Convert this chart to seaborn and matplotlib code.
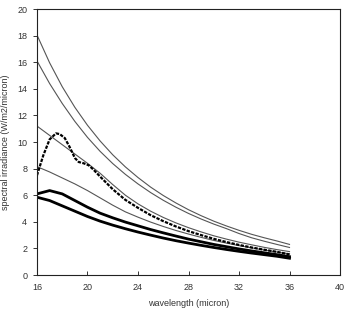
import pandas as pd
import matplotlib
matplotlib.use('Agg')
import matplotlib.pyplot as plt
import seaborn as sns

# wavelength grid (micron)
wl = [16, 17, 18, 19, 20, 21, 22, 23, 24, 25, 26, 27, 28, 29, 30, 31, 32, 33, 34, 35, 36]

# thin model curves
curve_a = [18.05, 15.96, 14.16, 12.61, 11.26, 10.08, 9.04, 8.13, 7.33, 6.61, 5.98,
           5.42, 4.91, 4.46, 4.05, 3.69, 3.36, 3.06, 2.80, 2.56, 2.30]
curve_b = [16.1, 14.4, 12.9, 11.55, 10.35, 9.3, 8.38, 7.57, 6.85, 6.2, 5.62,
           5.1, 4.63, 4.21, 3.83, 3.49, 3.12, 2.8, 2.54, 2.3, 2.07]
curve_c = [11.2, 10.5, 9.8, 9.1, 8.4, 7.65, 6.8, 6.0, 5.35, 4.8, 4.33,
           3.92, 3.56, 3.24, 2.95, 2.7, 2.47, 2.27, 2.08, 1.91, 1.76]
curve_e = [8.15, 7.75, 7.3, 6.85, 6.35, 5.8, 5.25, 4.75, 4.35, 3.98, 3.65,
           3.35, 3.08, 2.83, 2.6, 2.4, 2.21, 2.04, 1.88, 1.73, 1.58]

# thick measured curves
curve_f = [6.1, 6.35, 6.1, 5.6, 5.1, 4.65, 4.3, 3.98, 3.7, 3.42, 3.17,
           2.93, 2.7, 2.5, 2.3, 2.13, 1.96, 1.81, 1.67, 1.53, 1.38]
curve_g = [5.85, 5.6, 5.2, 4.8, 4.4, 4.05, 3.75, 3.48, 3.23, 3.0, 2.78,
           2.58, 2.4, 2.23, 2.07, 1.92, 1.78, 1.65, 1.53, 1.41, 1.26]

# dotted measured curve with the peak near 17.6 micron
wl_d = [16, 16.5, 17, 17.5, 17.8, 18.2, 18.6, 19.0, 19.3, 19.7, 20.1, 20.5, 21,
        22, 23, 24, 25, 26, 27, 28, 29, 30, 31, 32, 33, 34, 35, 36]
curve_d = [7.5, 9.0, 10.2, 10.65, 10.6, 10.3, 9.6, 8.8, 8.5, 8.4, 8.25, 7.9, 7.4,
           6.45, 5.65, 5.05, 4.5, 4.05, 3.65, 3.3, 3.0, 2.72, 2.48, 2.26, 2.07, 1.9, 1.74, 1.55]

thin = {'a': curve_a, 'b': curve_b, 'c': curve_c, 'e': curve_e}
thick = {'f': curve_f, 'g': curve_g}

plt.rcParams['font.family'] = ['Liberation Sans', 'DejaVu Sans']

fig = plt.figure(figsize=(3.51, 3.13), dpi=100)
ax = fig.add_axes([0.1054, 0.1214, 0.8633, 0.8496])

for name, vals in thin.items():
    df = pd.DataFrame({'wl': wl, 'irr': vals})
    sns.lineplot(data=df, x='wl', y='irr', ax=ax, color='#555555', linewidth=0.8)

for name, vals in thick.items():
    df = pd.DataFrame({'wl': wl, 'irr': vals})
    sns.lineplot(data=df, x='wl', y='irr', ax=ax, color='black', linewidth=2.0)

df_d = pd.DataFrame({'wl': wl_d, 'irr': curve_d})
sns.lineplot(data=df_d, x='wl', y='irr', ax=ax, color='black', linewidth=1.6,
             linestyle=(0, (1.5, 0.6)))

ax.set_xlim(16, 40)
ax.set_ylim(0, 20)
ax.set_xticks(range(16, 41, 4))
ax.set_yticks(range(0, 21, 2))
ax.tick_params(axis='x', direction='in', length=3, width=0.7, labelsize=6.5,
               colors='#333333', pad=6)
ax.tick_params(axis='y', direction='out', length=3, width=0.7, labelsize=6.5,
               colors='#333333', pad=4)
for s in ax.spines.values():
    s.set_linewidth(0.8)
    s.set_color('#222222')
ax.set_xlabel('wavelength (micron)', fontsize=6.5, color='#333333', labelpad=5)
ax.set_ylabel('spectral irradiance (W/m2/micron)', fontsize=6.5, color='#333333', labelpad=5)

fig.savefig('out.png', dpi=100)
